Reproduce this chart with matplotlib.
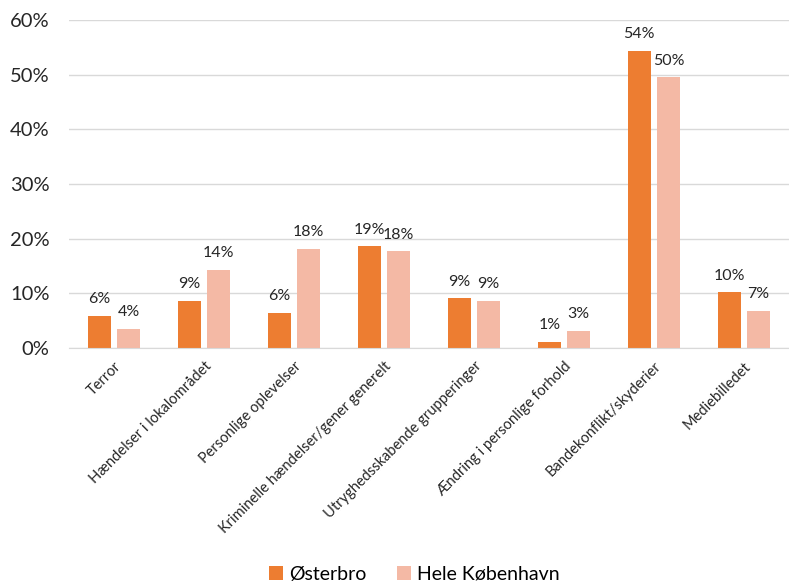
import numpy as np
import matplotlib.pyplot as plt
from matplotlib.ticker import PercentFormatter

plt.rcParams['font.family'] = ['Lato', 'DejaVu Sans']

categories = ['Terror', 'Hændelser i lokalområdet', 'Personlige oplevelser',
              'Kriminelle hændelser/gener generelt', 'Utryghedsskabende grupperinger',
              'Ændring i personlige forhold', 'Bandekonflikt/skyderier', 'Mediebilledet']
osterbro = [5.9, 8.6, 6.4, 18.6, 9.1, 1.1, 54.3, 10.2]
hele_kbh = [3.5, 14.3, 18.1, 17.7, 8.6, 3.1, 49.5, 6.8]

c_ost = '#ED7D31'
c_kbh = '#F4B9A5'

fig = plt.figure(figsize=(7.89, 5.83), dpi=100)
ax = fig.add_axes([0.0875, 0.403, 0.9125, 0.563])

x = np.arange(len(categories))
w = 0.26
b1 = ax.bar(x - 0.163, osterbro, w, color=c_ost, label='Østerbro')
b2 = ax.bar(x + 0.163, hele_kbh, w, color=c_kbh, label='Hele København')

for bars, vals in ((b1, osterbro), (b2, hele_kbh)):
    for b, v in zip(bars, vals):
        ax.annotate(f'{round(v):.0f}%', (b.get_x() + b.get_width() / 2, v),
                    xytext=(0, 7), textcoords='offset points',
                    ha='center', va='bottom', fontsize=11.5, color='#262626')

ax.set_xlim(-0.5, len(categories) - 0.5)
ax.set_ylim(0, 60)
ax.set_yticks(range(0, 61, 10))
ax.yaxis.set_major_formatter(PercentFormatter(decimals=0))
ax.tick_params(axis='y', length=0, labelsize=14.5, labelcolor='#262626', pad=14)
ax.tick_params(axis='x', length=0, pad=8)
ax.set_xticks(x)
ax.set_xticklabels(categories, rotation=45, ha='right', rotation_mode='anchor',
                   fontsize=10.5, color='#262626')
ax.grid(axis='y', color='#D9D9D9', linewidth=1)
ax.set_axisbelow(True)
for s in ('top', 'right', 'left'):
    ax.spines[s].set_visible(False)
ax.spines['bottom'].set_color('#D9D9D9')

fig.legend(handles=[b1, b2], loc='lower center', bbox_to_anchor=(0.525, -0.03),
           ncol=2, frameon=False, fontsize=14, handlelength=0.7, handleheight=0.7,
           handletextpad=0.3, columnspacing=1.6)

fig.savefig('out.png', dpi=100)
